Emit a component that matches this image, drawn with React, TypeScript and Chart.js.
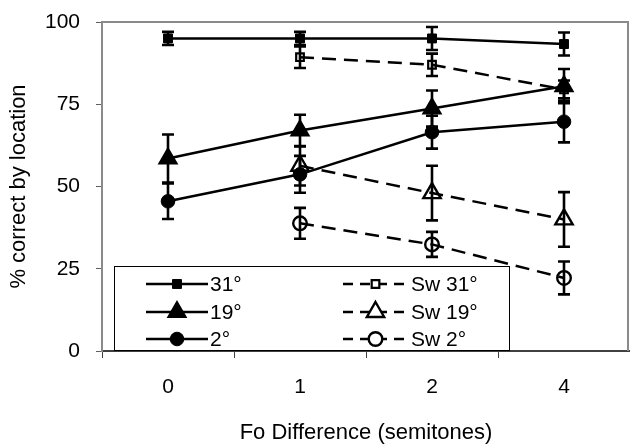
import React, { useEffect, useRef } from "react";
import { Chart, registerables } from "chart.js";
import { drawPoint } from "chart.js/helpers";

Chart.register(...registerables);

// ---- data ----
const categories = ["0", "1", "2", "4"];
const yTickValues = [0, 25, 50, 75, 100];
const seriesLabels = ["31°", "19°", "2°", "Sw 31°", "Sw 19°", "Sw 2°"];

const v31 = [95, 95, 95, 93.3];
const e31 = [2, 2, 3.5, 3.5];
const v19 = [58.5, 67, 73.7, 80.5];
const e19 = [7.3, 4.8, 5.5, 5.2];
const v2 = [45.5, 53.7, 66.5, 69.7];
const e2 = [5.4, 5.6, 5, 6.3];
const sw31 = [null, 89.3, 87, 79.5];
const esw31 = [null, 3.3, 3.4, 2.7];
const sw19 = [null, 56.3, 48, 40];
const esw19 = [null, 6, 8.3, 8.3];
const sw2 = [null, 38.8, 32.4, 22.2];
const esw2 = [null, 4.7, 3.8, 5];

const seriesValues = [v31, v19, v2, sw31, sw19, sw2];
const seriesErrors = [e31, e19, e2, esw31, esw19, esw2];

const FONT = "'Liberation Sans', Arial, Helvetica, sans-serif";
const DASH = [14, 8];

const styles = [
  { pointStyle: "rect", radius: 6.3, filled: true, dashed: false, bw: 1 },
  { pointStyle: "triangle", radius: 10.5, filled: true, dashed: false, bw: 1.5 },
  { pointStyle: "circle", radius: 6.8, filled: true, dashed: false, bw: 1 },
  { pointStyle: "rect", radius: 5.4, filled: false, dashed: true, bw: 2.2 },
  { pointStyle: "triangle", radius: 10, filled: false, dashed: true, bw: 2.4 },
  { pointStyle: "circle", radius: 6.8, filled: false, dashed: true, bw: 2.4 },
];

const framePlugin = {
  id: "frame",
  beforeDatasetsDraw(chart: any) {
    const { ctx, chartArea } = chart;
    ctx.save();
    ctx.strokeStyle = "#8a8a8a";
    ctx.lineWidth = 2;
    ctx.beginPath();
    ctx.moveTo(chartArea.left, chartArea.top);
    ctx.lineTo(chartArea.right - 2, chartArea.top);
    ctx.lineTo(chartArea.right - 2, chartArea.bottom);
    ctx.stroke();
    ctx.restore();
  },
};

const errorBarPlugin = {
  id: "errorBars",
  afterDatasetsDraw(chart: any) {
    const { ctx } = chart;
    const yScale = chart.scales.y;
    ctx.save();
    ctx.strokeStyle = "#000";
    ctx.lineWidth = 2.6;
    seriesErrors.forEach((errs, di) => {
      const meta = chart.getDatasetMeta(di);
      const vals = seriesValues[di];
      errs.forEach((e, i) => {
        const v = vals[i];
        if (v == null || e == null) return;
        const pt = meta.data[i];
        const x = pt.x;
        const yt = yScale.getPixelForValue(v + e);
        const yb = yScale.getPixelForValue(v - e);
        ctx.beginPath();
        ctx.moveTo(x, yt);
        ctx.lineTo(x, yb);
        ctx.moveTo(x - 6, yt);
        ctx.lineTo(x + 6, yt);
        ctx.moveTo(x - 6, yb);
        ctx.lineTo(x + 6, yb);
        ctx.stroke();
      });
    });
    ctx.restore();
  },
};

const legendPlugin = {
  id: "customLegend",
  afterDatasetsDraw(chart: any) {
    const { ctx, chartArea } = chart;
    const x0 = chartArea.left + 12;
    const y0 = 266;
    const x1 = 510;
    const y1 = chartArea.bottom;
    ctx.save();
    ctx.fillStyle = "#fff";
    ctx.fillRect(x0, y0, x1 - x0, y1 - y0);
    ctx.strokeStyle = "#000";
    ctx.lineWidth = 1;
    ctx.strokeRect(x0 + 0.5, y0 + 0.5, x1 - x0 - 1, y1 - y0 - 1);
    const colLine = [
      [146, 208],
      [343, 408],
    ];
    const colText = [210, 411];
    const rowY = [284, 312, 339];
    ctx.font = `21px ${FONT}`;
    ctx.textBaseline = "middle";
    ctx.textAlign = "left";
    seriesLabels.forEach((label, i) => {
      const col = i < 3 ? 0 : 1;
      const row = i % 3;
      const st = styles[i];
      const y = rowY[row];
      const [lx0, lx1] = colLine[col];
      ctx.strokeStyle = "#000";
      ctx.lineWidth = 2.5;
      ctx.setLineDash(st.dashed ? [10, 7] : []);
      ctx.beginPath();
      ctx.moveTo(lx0, y);
      ctx.lineTo(lx1, y);
      ctx.stroke();
      ctx.setLineDash([]);
      ctx.fillStyle = st.filled ? "#000" : "#fff";
      ctx.strokeStyle = "#000";
      ctx.lineWidth = st.bw;
      drawPoint(
        ctx,
        { pointStyle: st.pointStyle, radius: st.radius, rotation: 0, borderWidth: st.bw } as any,
        (lx0 + lx1) / 2,
        y
      );
      ctx.fillStyle = "#000";
      ctx.fillText(label, colText[col], y + 1);
    });
    ctx.restore();
  },
};

export default function App() {
  const ref = useRef<HTMLCanvasElement | null>(null);

  useEffect(() => {
    if (!ref.current) return;
    const datasets = seriesLabels.map((label, i) => {
      const st = styles[i];
      return {
        label,
        data: seriesValues[i],
        borderColor: "#000",
        borderWidth: 2.5,
        borderDash: st.dashed ? DASH : [],
        backgroundColor: st.filled ? "#000" : "rgba(0,0,0,0)",
        pointStyle: st.pointStyle,
        pointRadius: st.radius,
        pointBorderWidth: st.bw,
        pointBackgroundColor: st.filled ? "#000" : "rgba(0,0,0,0)",
        pointBorderColor: "#000",
        fill: false,
        tension: 0,
        spanGaps: false,
      };
    });

    const chart = new Chart(ref.current, {
      type: "line",
      data: { labels: categories, datasets: datasets as any },
      options: {
        animation: false,
        responsive: false,
        layout: { autoPadding: false, padding: { top: 22, right: 0, left: 0, bottom: 0 } },
        plugins: {
          legend: { display: false },
          tooltip: { enabled: false },
        },
        scales: {
          x: {
            type: "category",
            offset: true,
            grid: {
              offset: true,
              drawOnChartArea: false,
              drawTicks: true,
              tickLength: 7,
              color: "#404040",
              lineWidth: 1,
            },
            border: { display: true, color: "#404040", width: 2 },
            ticks: {
              color: "#000",
              font: { family: FONT, size: 21 },
              padding: 17,
              maxRotation: 0,
            },
            title: {
              display: true,
              text: "Fo Difference (semitones)",
              color: "#000",
              font: { family: FONT, size: 22, lineHeight: 1 },
              padding: { top: 0, bottom: 0 },
            },
            afterFit(scale: any) {
              scale.height = 93;
              scale.paddingLeft = 0;
              scale.paddingRight = 0;
            },
          },
          y: {
            min: 0,
            max: 100,
            afterBuildTicks(scale: any) {
              scale.ticks = yTickValues.map((v) => ({ value: v }));
            },
            grid: {
              drawOnChartArea: false,
              drawTicks: true,
              tickLength: 6,
              color: "#606060",
              lineWidth: 1,
            },
            border: { display: true, color: "#8a8a8a", width: 2 },
            ticks: {
              color: "#000",
              font: { family: FONT, size: 21 },
              padding: 16,
            },
            title: {
              display: true,
              text: "% correct by location",
              color: "#000",
              font: { family: FONT, size: 22, lineHeight: 1 },
              padding: { top: 8, bottom: 0 },
            },
            afterFit(scale: any) {
              scale.width = 102;
              scale.paddingTop = 0;
              scale.paddingBottom = 0;
            },
          },
        },
      },
      plugins: [framePlugin, errorBarPlugin, legendPlugin],
    });
    return () => chart.destroy();
  }, []);

  return (
    <div style={{ position: "absolute", left: 0, top: 0, width: 630, height: 444, background: "#fff" }}>
      <canvas ref={ref} width={630} height={444} style={{ width: 630, height: 444, display: "block" }} />
    </div>
  );
}
